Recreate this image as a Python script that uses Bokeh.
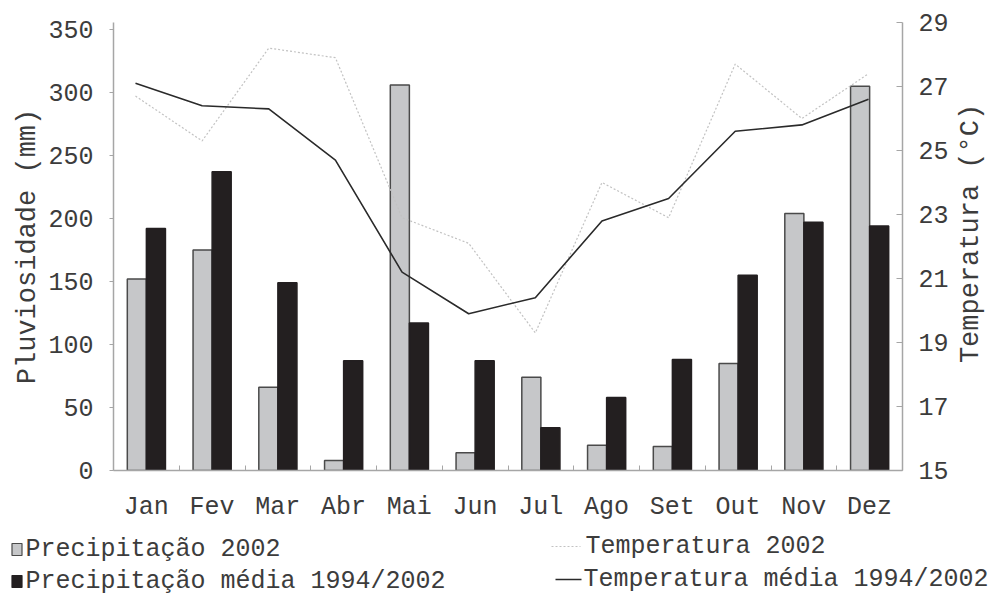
import math
from bokeh.plotting import figure
from bokeh.models import Range1d, LinearAxis, FixedTicker, ColumnDataSource
from bokeh.layouts import column, row
from bokeh.transform import dodge
from bokeh.embed import file_html
from bokeh.resources import INLINE
from bokeh.core.properties import value

months = ["Jan", "Fev", "Mar", "Abr", "Mai", "Jun", "Jul", "Ago", "Set", "Out", "Nov", "Dez"]
precip_2002 = [152, 175, 66, 8, 306, 14, 74, 20, 19, 85, 204, 305]
precip_media = [192, 237, 149, 87, 117, 87, 34, 58, 88, 155, 197, 194]
temp_2002 = [26.7, 25.3, 28.2, 27.9, 22.9, 22.1, 19.3, 24.0, 22.9, 27.7, 26.0, 27.4]
temp_media = [27.1, 26.4, 26.3, 24.7, 21.2, 19.9, 20.4, 22.8, 23.5, 25.6, 25.8, 26.6]
left_ticks = [0, 50, 100, 150, 200, 250, 300, 350]
right_ticks = [15, 17, 19, 21, 23, 25, 27, 29]
legend_labels = ["Precipitação 2002", "Precipitação média 1994/2002",
                 "Temperatura 2002", "Temperatura média 1994/2002"]
left_title = "Pluviosidade (mm)"
right_title = "Temperatura (°C)"

FONT = "Liberation Mono"
FS = "25px"
FS_T = "27px"
TXT = "#3c3c3c"
AXC = "#a6a6a6"
GRAY = "#c6c7c9"
BLACK = "#231f20"
DOT = "#c2c2c2"
LINE = "#2a2a2a"

idx = list(range(1, len(months) + 1))
src = ColumnDataSource(dict(x=idx, p2002=precip_2002, pmed=precip_media,
                            t2002=temp_2002, tmed=temp_media))

p = figure(width=952, height=524, x_range=Range1d(0.5, 12.5), y_range=Range1d(0, 355.5),
           output_backend="svg", toolbar_location=None,
           min_border_left=113, min_border_right=50, min_border_top=22, min_border_bottom=52,
           outline_line_color=None)
p.extra_y_ranges = {"temp": Range1d(15, 29)}
p.extra_x_ranges = {"tline": Range1d(0.67, 12.51)}
p.xgrid.visible = False
p.ygrid.visible = False

# bars
p.vbar(x=dodge("x", -0.145, range=p.x_range), top="p2002", width=0.29, source=src,
       fill_color=GRAY, line_color="#4a4a4a", line_width=1.5)
p.vbar(x=dodge("x", 0.145, range=p.x_range), top="pmed", width=0.29, source=src,
       fill_color=BLACK, line_color=BLACK, line_width=1.5)

# temperature lines
p.line(x="x", y="t2002", source=src, x_range_name="tline", y_range_name="temp",
       line_color=DOT, line_width=1.2, line_dash="2 2")
p.line(x="x", y="tmed", source=src, x_range_name="tline", y_range_name="temp",
       line_color=LINE, line_width=1.6)

# x axis
xa = p.xaxis[0]
xa.ticker = FixedTicker(ticks=idx, minor_ticks=[i + 0.5 for i in range(0, len(months) + 1)])
xa.major_label_overrides = {i: m for i, m in zip(idx, months)}
xa.major_tick_line_color = None
xa.minor_tick_in = 5
xa.minor_tick_out = 0
xa.minor_tick_line_color = AXC
xa.axis_line_color = AXC
xa.axis_line_width = 1.5
xa.major_label_standoff = 16
xa.major_label_text_font = FONT
xa.major_label_text_font_size = FS
xa.major_label_text_color = TXT

# left axis
ya = p.yaxis[0]
ya.ticker = FixedTicker(ticks=left_ticks)
ya.minor_tick_line_color = None
ya.major_tick_in = 0
ya.major_tick_out = 4
ya.major_tick_line_color = AXC
ya.axis_line_color = AXC
ya.axis_line_width = 1.5
ya.major_label_standoff = 16
ya.major_label_text_font = FONT
ya.major_label_text_font_size = FS
ya.major_label_text_color = TXT
ya.axis_label = left_title
ya.axis_label_text_font = FONT
ya.axis_label_text_font_size = FS_T
ya.axis_label_text_font_style = "normal"
ya.axis_label_text_color = TXT
ya.axis_label_standoff = 2

# right axis
ra = LinearAxis(y_range_name="temp", ticker=FixedTicker(ticks=right_ticks))
ra.minor_tick_line_color = None
ra.major_tick_in = 6
ra.major_tick_out = 0
ra.major_tick_line_color = AXC
ra.axis_line_color = AXC
ra.axis_line_width = 1.5
ra.major_label_standoff = 16
ra.major_label_text_font = FONT
ra.major_label_text_font_size = FS
ra.major_label_text_color = TXT
p.add_layout(ra, "right")

# right-hand axis title (reads bottom to top), in page-pixel coordinates
rlab = figure(width=40, height=524, frame_width=40, frame_height=524, min_border=0,
              x_range=Range1d(952, 992), y_range=Range1d(524, 0),
              x_axis_location=None, y_axis_location=None,
              output_backend="svg", toolbar_location=None, outline_line_color=None)
rlab.grid.visible = False
rlab.text(x=[970], y=[233], text=[right_title], angle=math.pi / 2,
          text_font=value(FONT), text_font_size=value(FS_T), text_color=TXT,
          text_align="center", text_baseline="middle")

# legend strip (page-pixel coordinates)
lg = figure(width=992, height=74, frame_width=992, frame_height=74, min_border=0,
            x_range=Range1d(0, 992), y_range=Range1d(598, 524),
            x_axis_location=None, y_axis_location=None,
            output_backend="svg", toolbar_location=None, outline_line_color=None)
lg.grid.visible = False
lg.rect(x=[16.5], y=[549], width=10, height=12, fill_color=GRAY, line_color="#4a4a4a", line_width=1.2)
lg.rect(x=[16.5], y=[581], width=10, height=12, fill_color=BLACK, line_color=BLACK, line_width=1.2)
lg.line(x=[551, 580], y=[546, 546], line_color=DOT, line_width=1.2, line_dash="2 2")
lg.line(x=[555, 581], y=[579, 579], line_color=LINE, line_width=1.6)
lg.text(x=[25, 25, 585, 583], y=[549, 581, 546, 579], text=legend_labels,
        text_font=value(FONT), text_font_size=value(FS), text_color=TXT,
        text_align="left", text_baseline="middle")

for f in (p, rlab, lg):
    if hasattr(f, "frame_align"):
        f.frame_align = False

layout = column(row(p, rlab, spacing=0), lg, spacing=0)
open("out.html", "w").write(file_html(layout, INLINE))
